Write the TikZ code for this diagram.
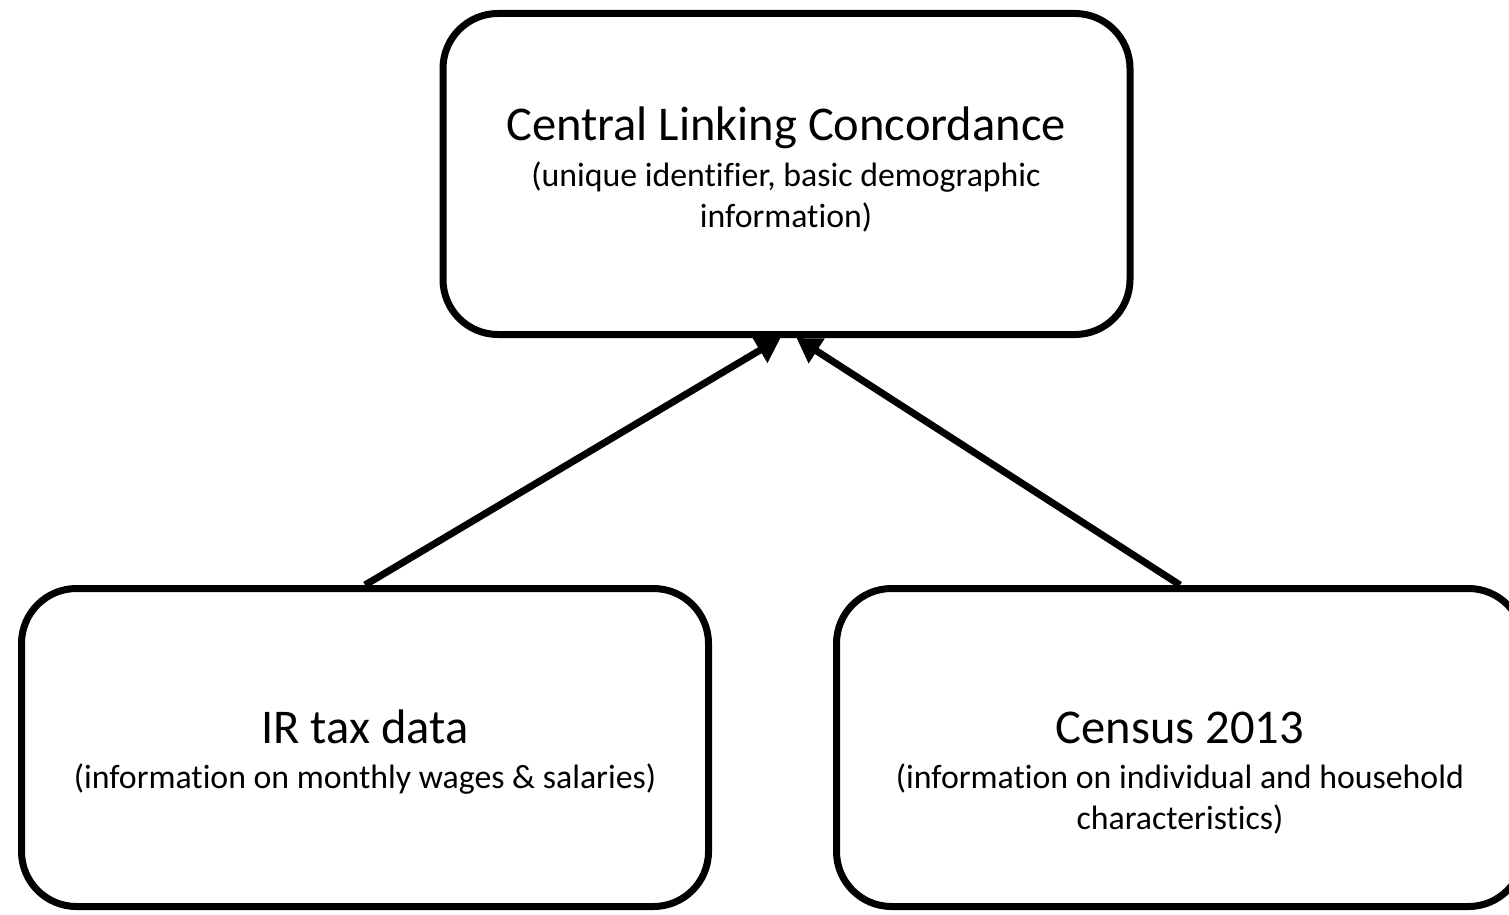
\documentclass[tikz,border=0pt]{standalone}
\usepackage{fontspec}
\setmainfont{Carlito}[Ligatures=NoCommon]
\usetikzlibrary{arrows.meta}
\tikzset{
  databox/.style={draw, line width=7pt, rounded corners=55pt,
    minimum width=687pt, minimum height=318pt},
  titletext/.style={font=\fontsize{48.5}{58}\selectfont, anchor=base},
  infotext/.style={font=\fontsize{33.8}{41}\selectfont, anchor=base},
  link/.style={line width=7pt, -{Triangle[length=24pt,width=28pt]}}
}
\begin{document}
\begin{tikzpicture}[x=1pt,y=-1pt]
  \useasboundingbox (0,0) rectangle (1509,915);
  % boxes
  \node[databox, minimum height=321pt] (clc) at (786.5,174) {};
  \node[databox] (ir) at (365,747.5) {};
  \node[databox] (census) at (1180,747.5) {};
  % texts
  \node[titletext] (clctitle) at (786,141) {Central Linking Concordance};
  \node[infotext] (clcinfo1) at (786,186) {(unique identifier, basic demographic};
  \node[infotext] (clcinfo2) at (786,227) {information)};
  \node[titletext] (irtitle) at (365,743) {IR tax data};
  \node[infotext] (irinfo) at (365,788) {(information on monthly wages \& salaries)};
  \node[titletext] (censustitle) at (1180,743) {Census 2013};
  \node[infotext] (censusinfo1) at (1180,788) {(information on individual and household};
  \node[infotext] (censusinfo2) at (1180,829) {characteristics)};
  % links
  \draw[link] (ir.north) -- ([xshift=-6pt]clc.south);
  \draw[link] (census.north) -- ([xshift=10pt]clc.south);
\end{tikzpicture}
\end{document}
